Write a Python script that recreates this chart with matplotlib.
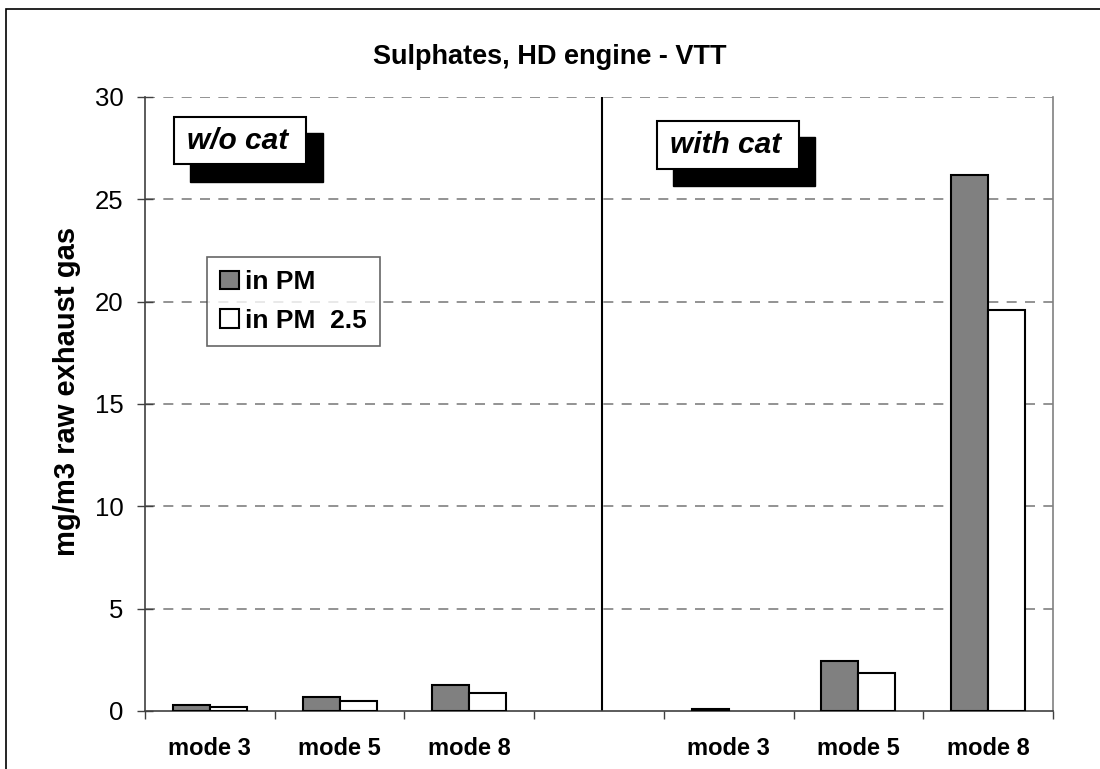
import matplotlib
matplotlib.use("Agg")
import matplotlib.pyplot as plt
from matplotlib.patches import Rectangle
import numpy as np

plt.rcParams["font.family"] = ["Liberation Sans", "DejaVu Sans"]

# Categories: three modes without catalyst, a spacer, three modes with catalyst
categories = ["mode 3", "mode 5", "mode 8", "", "mode 3", "mode 5", "mode 8"]
in_pm = [0.28, 0.69, 1.27, np.nan, 0.10, 2.45, 26.2]
in_pm25 = [0.20, 0.49, 0.89, np.nan, np.nan, 1.87, 19.6]
series_names = ["in PM", "in PM  2.5"]
y_ticks = [0, 5, 10, 15, 20, 25, 30]

W, H = 1100, 769
fig = plt.figure(figsize=(W / 100, H / 100), dpi=100)
ax = fig.add_axes([145 / W, 1 - 711 / H, 908 / W, 614 / H])

x = np.arange(len(categories))
bw = 1 / 3.5
ax.bar(x - bw / 2, in_pm, bw, color="#808080", edgecolor="black", lw=1.5,
       label=series_names[0], zorder=3)
ax.bar(x + bw / 2, in_pm25, bw, color="white", edgecolor="black", lw=1.5,
       label=series_names[1], zorder=3)

ax.set_xlim(-0.5, len(categories) - 0.5)
ax.set_ylim(0, 30)

# category boundaries carry the tick marks, labels sit on the centres
ax.set_xticks(np.arange(-0.5, len(categories)))
ax.set_xticklabels([])
ax.set_xticks(x, minor=True)
ax.set_xticklabels(categories, minor=True, fontsize=17, fontweight="bold")
ax.tick_params(axis="x", which="major", direction="out", length=6, width=1,
               color="#404040")
ax.tick_params(axis="x", which="minor", length=0, pad=19)

ax.set_yticks(y_ticks)
ax.set_yticklabels([str(v) for v in y_ticks], fontsize=18.5)
ax.tick_params(axis="y", direction="inout", length=11, width=1,
               color="#404040", pad=10)

for v in y_ticks[1:]:
    ax.axhline(v, color="#808080", lw=1.2, ls=(0, (6, 5)), zorder=1)

ax.spines["top"].set_visible(False)
ax.spines["right"].set_color("#808080")
ax.spines["left"].set_color("#404040")
ax.spines["bottom"].set_color("#404040")
for s in ["left", "bottom", "right"]:
    ax.spines[s].set_linewidth(1.2)

# divider between the two catalyst configurations
ax.axvline(3.02, color="black", lw=1.5, zorder=2)


def shadow_label(text, box, shadow):
    (bx0, bx1, by0, by1) = box
    (sx0, sx1, sy0, sy1) = shadow
    ax.add_patch(Rectangle((sx0, sy0), sx1 - sx0, sy1 - sy0, transform=ax.transAxes,
                           facecolor="black", edgecolor="black", zorder=5))
    ax.add_patch(Rectangle((bx0, by0), bx1 - bx0, by1 - by0, transform=ax.transAxes,
                           facecolor="white", edgecolor="black", lw=1.5, zorder=6))
    ax.text((bx0 + bx1) / 2 - 0.003, (by0 + by1) / 2, text, transform=ax.transAxes,
            ha="center", va="center", fontsize=21.5, fontweight="bold",
            style="italic", zorder=7)


shadow_label("w/o cat", (0.0319, 0.1773, 0.8909, 0.9674),
             (0.0496, 0.1960, 0.8616, 0.9414))
shadow_label("with cat", (0.5639, 0.7203, 0.8827, 0.9609),
             (0.5815, 0.7379, 0.8550, 0.9349))

leg = ax.legend(loc="upper left", bbox_to_anchor=(207 / W, 1 - 257 / H),
                bbox_transform=fig.transFigure,
                prop={"weight": "bold", "size": 19}, frameon=True,
                fancybox=False, handlelength=0.7, handleheight=0.7,
                handletextpad=0.25, borderpad=0.5, labelspacing=0.55,
                borderaxespad=0)
leg.get_frame().set_edgecolor("#404040")
leg.get_frame().set_linewidth(1.2)
leg.set_zorder(8)

fig.text(550 / W, 1 - 57 / H, "Sulphates, HD engine - VTT", ha="center",
         va="center", fontsize=19.5, fontweight="bold")
fig.text(67 / W, 1 - 391 / H, "mg/m3 raw exhaust gas", rotation=90,
         ha="center", va="center", fontsize=21, fontweight="bold")

# chart area border
fig.patches.append(Rectangle((6 / W, -0.05), 1.2, 1.05 - 9 / H,
                             transform=fig.transFigure, facecolor="none",
                             edgecolor="black", lw=1.2, zorder=0))

fig.savefig("out.png", dpi=100)
